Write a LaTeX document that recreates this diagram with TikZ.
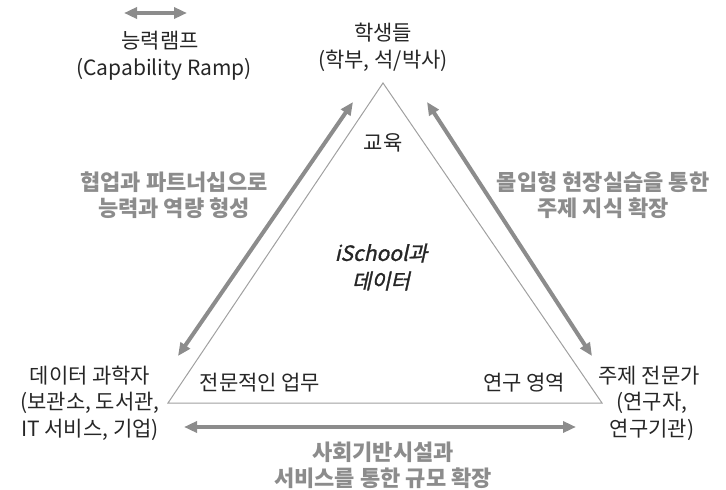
\documentclass[tikz,border=0pt]{standalone}
\usepackage{fontspec}
\setmainfont{Noto Sans CJK KR}
\newfontfamily\krslant{Noto Sans CJK KR}[FakeSlant=0.22, FakeBold=1.2]
\usetikzlibrary{arrows.meta}
\definecolor{arrowgray}{HTML}{8C8C8C}
\definecolor{linegray}{HTML}{A0A0A0}
\definecolor{txt}{HTML}{262626}
\begin{document}
\begin{tikzpicture}[x=1pt,y=-1pt,
  lbl/.style={font=\fontsize{21}{24}\selectfont, text=txt, align=center, inner sep=0pt},
  glbl/.style={font=\fontsize{22}{25}\selectfont\bfseries, text=arrowgray, align=center, inner sep=0pt},
  ramp/.style={draw=arrowgray, line width=4pt, {Triangle[length=13pt,width=11pt]}-{Triangle[length=13pt,width=11pt]}},
  tri/.style={draw=linegray, line width=1pt}
]
\useasboundingbox (0,0) rectangle (726,490);
% triangle
\coordinate (A) at (383,83);
\coordinate (B) at (168,403);
\coordinate (C) at (602,403);
\draw[tri] (A) -- (B) -- (C) -- cycle;
% legend arrow
\coordinate (l1) at (124,13);
\coordinate (l2) at (187,13);
\draw[ramp, line width=3.5pt] (l1) -- (l2);
% ramp arrows
\coordinate (p1) at (178,356);
\coordinate (p2) at (353,102);
\draw[ramp] (p1) -- (p2);
\coordinate (q1) at (427,102);
\coordinate (q2) at (592,356);
\draw[ramp] (q1) -- (q2);
\coordinate (r1) at (184,427);
\coordinate (r2) at (576,427);
\draw[ramp] (r1) -- (r2);
% texts
\node[lbl] (leg) at (160,41) {능력램프};
\node[lbl] (leg2) at (164,69) {(Capability Ramp)};
\node[lbl] (stu) at (383,33) {학생들};
\node[lbl] (stu2) at (383,61) {(학부, 석/박사)};
\node[lbl] (edu) at (383,143) {교육};
\node[glbl] (g1) at (174,182) {협업과 파트너십으로};
\node[glbl] (g2) at (174,208) {능력과 역량 형성};
\node[glbl] (g3) at (603,182) {몰입형 현장실습을 통한};
\node[glbl] (g4) at (603,208) {주제 지식 확장};
\node[lbl, font=\fontsize{21}{24}\selectfont\krslant] (c1) at (381,253) {iSchool과};
\node[lbl, font=\fontsize{21}{24}\selectfont\krslant] (c2) at (381,281) {데이터};
\node[lbl] (ds1) at (90,376) {데이터 과학자};
\node[lbl] (ds2) at (90,403) {(보관소, 도서관,};
\node[lbl] (ds3) at (90,430) {IT 서비스, 기업)};
\node[lbl] (pro) at (260,383) {전문적인 업무};
\node[lbl] (res) at (524,383) {연구 영역};
\node[lbl] (se1) at (649,376) {주제 전문가};
\node[lbl] (se2) at (652,403) {(연구자,};
\node[lbl] (se3) at (652,430) {연구기관)};
\node[glbl] (b1) at (383,452) {사회기반시설과};
\node[glbl] (b2) at (383,478) {서비스를 통한 규모 확장};
\end{tikzpicture}
\end{document}
